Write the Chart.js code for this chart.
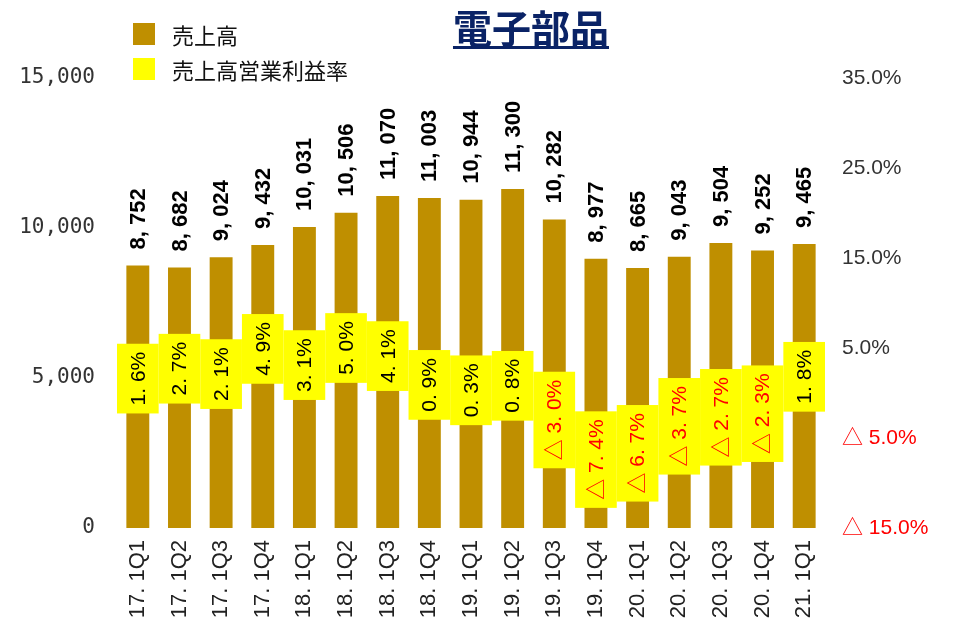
<!DOCTYPE html>
<html>
<head>
<meta charset="utf-8">
<script src="https://cdn.jsdelivr.net/npm/chart.js@4"></script>
<style>
  body { margin: 0; background: #fff; }
  #wrap { position: relative; width: 957px; height: 629px; }
  #title {
    position: absolute; left: 0; width: 1062px; top: -2px; text-align: center;
    font: bold 39px "Noto Sans CJK JP", sans-serif; color: #0a2366;
    text-decoration: underline; text-decoration-thickness: 3px; text-underline-offset: 3px;
  }
  #legend { position: absolute; left: 133px; top: 16px; font: 22px "Noto Sans CJK JP", sans-serif; color: #111; }
  .item { height: 35px; display: flex; align-items: center; }
  .box { width: 22px; height: 22px; margin-right: 17px; }
</style>
</head>
<body>
<div id="wrap">
  <canvas id="myChart" width="957" height="629"></canvas>
  <div id="title">電子部品</div>
  <div id="legend"></div>
</div>
<script>
/* ------------------------------ データ ------------------------------ */
const labels = ['17. 1Q1', '17. 1Q2', '17. 1Q3', '17. 1Q4', '18. 1Q1', '18. 1Q2', '18. 1Q3', '18. 1Q4',
                '19. 1Q1', '19. 1Q2', '19. 1Q3', '19. 1Q4', '20. 1Q1', '20. 1Q2', '20. 1Q3', '20. 1Q4', '21. 1Q1'];
const sales = [8752, 8682, 9024, 9432, 10031, 10506, 11070, 11003, 10944, 11300, 10282, 8977, 8665, 9043, 9504, 9252, 9465];
const margin = [1.6, 2.7, 2.1, 4.9, 3.1, 5.0, 4.1, 0.9, 0.3, 0.8, -3.0, -7.4, -6.7, -3.7, -2.7, -2.3, 1.8];
const salesTicks = [0, 5000, 10000, 15000];
const marginTicks = [-15, -5, 5, 15, 25, 35];

const gold = '#bf8f00';
const yellow = '#ffff00';
const red = '#ff0000';

function fmtSales(v) {
    return String(v).replace(/\B(?=(\d{3})+(?!\d))/g, ', ');
}
function fmtMargin(v) {
    let s = Math.abs(v).toFixed(1).replace('.', '. ') + '%';
    return v < 0 ? '△ ' + s : s;
}

/* ------------------------------ ラベル描画 ------------------------------ */
const labelPlugin = {
    id: 'labelPlugin',
    afterDatasetsDraw(chart) {
        const ctx = chart.ctx;
        const bars = chart.getDatasetMeta(0).data;
        const pts = chart.getDatasetMeta(1).data;
        const xs = chart.scales.x;
        const catW = (xs.getPixelForValue(1) - xs.getPixelForValue(0));

        // 売上高の数値
        ctx.save();
        ctx.font = 'bold 22px "Liberation Sans", sans-serif';
        ctx.fillStyle = '#000';
        ctx.textAlign = 'left';
        ctx.textBaseline = 'middle';
        bars.forEach((b, i) => {
            ctx.save();
            ctx.translate(b.x + 1, b.y - 16);
            ctx.rotate(-Math.PI / 2);
            ctx.fillText(fmtSales(sales[i]), 0, 0);
            ctx.restore();
        });
        ctx.restore();

        // 営業利益率の黄色ボックス
        ctx.save();
        ctx.font = '21px "Liberation Sans", "Noto Sans CJK JP", sans-serif';
        ctx.textAlign = 'center';
        ctx.textBaseline = 'middle';
        pts.forEach((p, i) => {
            const t = fmtMargin(margin[i]);
            const h = ctx.measureText(t).width + 16;
            ctx.fillStyle = yellow;
            ctx.fillRect(p.x - catW / 2, p.y - h / 2, catW, h);
        });
        pts.forEach((p, i) => {
            const t = fmtMargin(margin[i]);
            ctx.save();
            ctx.translate(p.x + 1, p.y);
            ctx.rotate(-Math.PI / 2);
            ctx.fillStyle = margin[i] < 0 ? red : '#000';
            ctx.fillText(t, 0, 0);
            ctx.restore();
        });
        ctx.restore();
    }
};

const data = {
    labels: labels,
    datasets: [{
        type: 'bar',
        label: '売上高',
        data: sales,
        backgroundColor: gold,
        yAxisID: 'y',
        barPercentage: 0.55,
        categoryPercentage: 1.0,
        order: 2
    }, {
        type: 'line',
        label: '売上高営業利益率',
        data: margin,
        backgroundColor: yellow,
        borderColor: yellow,
        showLine: false,
        pointRadius: 0,
        yAxisID: 'y1',
        order: 1
    }]
};

const tickFont = { family: '"DejaVu Sans Mono", monospace', size: 21 };

const config = {
    type: 'bar',
    data: data,
    plugins: [labelPlugin],
    options: {
        responsive: false,
        animation: false,
        layout: { padding: { top: 78, left: 0, right: 0, bottom: 0 } },
        plugins: { legend: { display: false }, tooltip: { enabled: false } },
        scales: {
            x: {
                grid: { display: false, drawTicks: false },
                border: { display: false },
                ticks: {
                    minRotation: 90, maxRotation: 90, padding: 12,
                    color: '#222',
                    font: { family: '"Liberation Sans", sans-serif', size: 22 }
                },
                afterFit(scale) { scale.height = 101; }
            },
            y: {
                position: 'left',
                min: salesTicks[0], max: salesTicks[salesTicks.length - 1],
                grid: { display: false, drawTicks: false },
                border: { display: false },
                afterBuildTicks(scale) { scale.ticks = salesTicks.map(v => ({ value: v })); },
                ticks: {
                    padding: 22, color: '#333', font: tickFont,
                    callback: v => String(v).replace(/\B(?=(\d{3})+(?!\d))/g, ',')
                },
                afterFit(scale) { scale.width = 117; }
            },
            y1: {
                position: 'right',
                min: marginTicks[0], max: marginTicks[marginTicks.length - 1],
                grid: { display: false, drawTicks: false },
                border: { display: false },
                afterBuildTicks(scale) { scale.ticks = marginTicks.map(v => ({ value: v })); },
                ticks: {
                    padding: 17,
                    font: { family: '"Liberation Sans", "Noto Sans CJK JP", sans-serif', size: 21 },
                    color: c => c.tick && c.tick.value < 0 ? red : '#333',
                    callback: v => v < 0 ? '△ ' + Math.abs(v).toFixed(1) + '%' : v.toFixed(1) + '%'
                },
                afterFit(scale) { scale.width = 132; }
            }
        }
    }
};

const myChart = new Chart(document.getElementById('myChart'), config);

// 凡例
const legend = document.getElementById('legend');
myChart.data.datasets.forEach(ds => {
    const item = document.createElement('div');
    item.className = 'item';
    item.innerHTML = '<span class="box" style="background:' + ds.backgroundColor + '"></span><span>' + ds.label + '</span>';
    legend.appendChild(item);
});
</script>
</body>
</html>
